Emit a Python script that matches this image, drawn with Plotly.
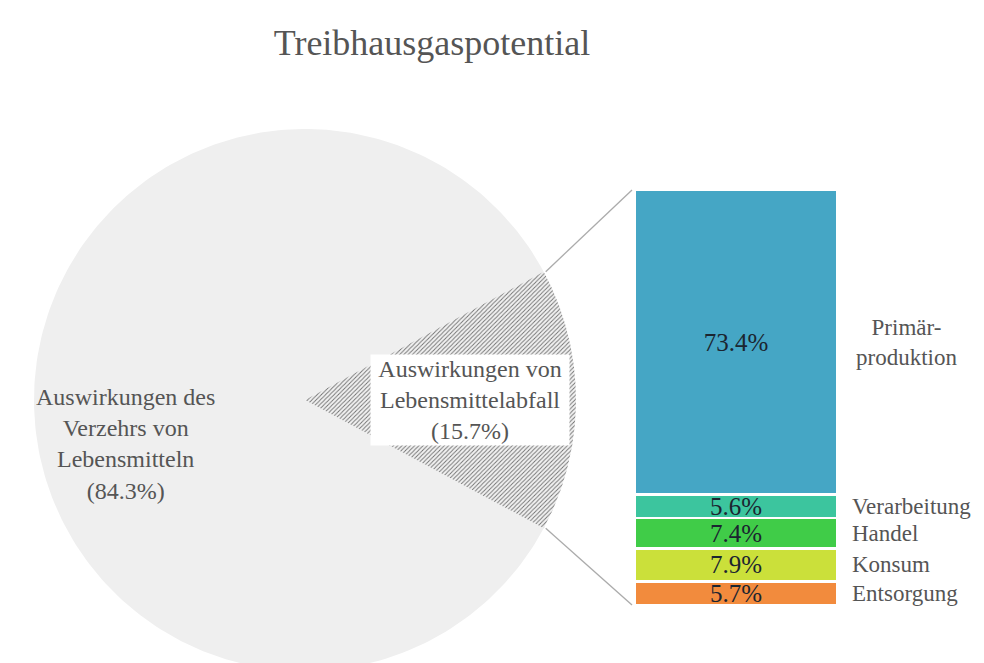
import numpy as np
import plotly.graph_objects as go

# ---------------- data ----------------
title_text = "Treibhausgaspotential"

pie_labels = ["Auswirkungen des<br>Verzehrs von<br>Lebensmitteln",
              "Auswirkungen von<br>Lebensmittelabfall"]
pie_values = [84.3, 15.7]

bar_categories = ["Primärproduktion", "Verarbeitung", "Handel", "Konsum", "Entsorgung"]
bar_labels = ["Primär-<br>produktion", "Verarbeitung", "Handel", "Konsum", "Entsorgung"]
bar_values = [73.4, 5.6, 7.4, 7.9, 5.7]
bar_colors = ["#45a6c5", "#3cc59e", "#40cc48", "#cbe03a", "#f28b3d"]

# ---------------- layout constants (screen pixels) ----------------
OFF = 8                      # default body margin of the html page
W, H = 984 - OFF, 663 - OFF
X0, X1 = OFF, OFF + W        # screen x covered by the figure
Y0, Y1 = OFF, OFF + H        # screen y covered by the figure
cx, cy, R = 305, 400, 271
bar_left, bar_right, bar_top, bar_bottom = 635, 837, 190, 605
font_family = "Liberation Serif, Times New Roman, serif"
txt_grey = "#555555"

fig = go.Figure()

# ---------------- pie drawn via data coordinates ----------------
half = pie_values[1] / sum(pie_values) * 180.0  # half-angle of the detached slice


def wedge(a0, a1, n=240):
    t = np.radians(np.linspace(a0, a1, n))
    xs = np.concatenate([[cx], cx + R * np.cos(t), [cx]])
    ys = np.concatenate([[cy], cy - R * np.sin(t), [cy]])
    return xs, ys


gx, gy = wedge(half, 360 - half)
fig.add_trace(go.Scatter(x=gx, y=gy, fill="toself", mode="lines",
                         line=dict(width=0, color="#efefef"),
                         fillcolor="#efefef", hoverinfo="skip",
                         xaxis="x", yaxis="y"))
hx, hy = wedge(-half, half)
fig.add_trace(go.Scatter(x=hx, y=hy, fill="toself", mode="lines",
                         line=dict(width=0, color="#aaaaaa"),
                         fillcolor="#f2f2f2",
                         fillpattern=dict(shape="/", size=3, solidity=0.3,
                                          fgcolor="#707070", bgcolor="#f2f2f2",
                                          fillmode="replace"),
                         hoverinfo="skip", xaxis="x", yaxis="y"))

# ---------------- stacked bar ----------------
total = sum(bar_values)
order = list(range(len(bar_values)))[::-1]  # bottom to top
for i in order:
    fig.add_trace(go.Bar(x=[0], y=[bar_values[i]], width=[1],
                         marker=dict(color=bar_colors[i], line=dict(color="white", width=2.5)),
                         text=[f"{bar_values[i]}%"], textposition="inside",
                         insidetextanchor="middle", constraintext="none",
                         textfont=dict(family=font_family, size=25, color="#1b2530"),
                         cliponaxis=False, hoverinfo="skip",
                         xaxis="x2", yaxis="y2"))

# labels right of the bar at segment midpoints
cum = 0.0
mids = {}
for i in order:
    mids[i] = cum + bar_values[i] / 2
    cum += bar_values[i]
for i in range(len(bar_values)):
    if i == 0:
        fig.add_annotation(x=906, y=mids[i], xref="x", yref="y2", text=bar_labels[i],
                           showarrow=False, xanchor="center", yanchor="middle",
                           font=dict(family=font_family, size=23, color=txt_grey))
    else:
        fig.add_annotation(x=850, y=mids[i], xref="x", yref="y2", text=bar_labels[i],
                           showarrow=False, xanchor="left", yanchor="middle",
                           font=dict(family=font_family, size=23, color=txt_grey))

# ---------------- connector lines ----------------
ex = cx + R * np.cos(np.radians(half))
ey_top = cy - R * np.sin(np.radians(half))
ey_bot = cy + R * np.sin(np.radians(half))
for (y0, y1) in [(ey_top, bar_top), (ey_bot, bar_bottom)]:
    fig.add_shape(type="line", x0=ex + 2, y0=y0, x1=bar_left - 3, y1=y1,
                  xref="x", yref="y", line=dict(color="#ababab", width=1.3))

# ---------------- pie labels ----------------
fig.add_annotation(x=125, y=444, xref="x", yref="y",
                   text=f"{pie_labels[0]}<br>({pie_values[0]}%)", showarrow=False,
                   align="center", font=dict(family=font_family, size=24, color=txt_grey))
fig.add_annotation(x=470, y=400, xref="x", yref="y",
                   text=f"{pie_labels[1]}<br>({pie_values[1]}%)", showarrow=False,
                   align="center", bgcolor="white", width=196, borderpad=1,
                   font=dict(family=font_family, size=24, color=txt_grey))

fig.update_layout(
    width=W, height=H,
    margin=dict(l=0, r=0, t=0, b=0),
    paper_bgcolor="white", plot_bgcolor="rgba(0,0,0,0)",
    showlegend=False, barmode="stack", hovermode=False,
    title=dict(text=title_text, x=(432 - X0) / W, xanchor="center",
               y=(Y1 - 42) / H, yanchor="middle",
               font=dict(family=font_family, size=36, color=txt_grey)),
    xaxis=dict(range=[X0, X1], domain=[0, 1], visible=False, fixedrange=True),
    yaxis=dict(range=[Y1, Y0], domain=[0, 1], visible=False, fixedrange=True),
    xaxis2=dict(range=[-0.5, 0.5], domain=[(bar_left - X0) / W, (bar_right - X0) / W],
                anchor="y2", visible=False, fixedrange=True),
    yaxis2=dict(range=[0, total], domain=[(Y1 - bar_bottom) / H, (Y1 - bar_top) / H],
                anchor="x2", visible=False, fixedrange=True),
)

fig.write_html("out.html")
